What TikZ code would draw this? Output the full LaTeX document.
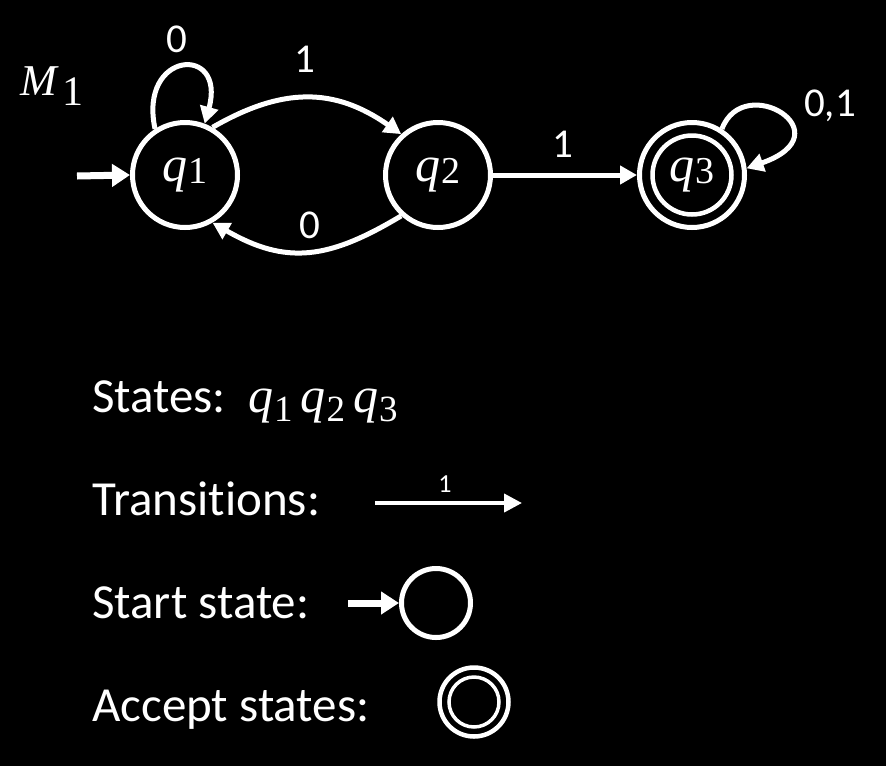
\documentclass[tikz,border=0pt]{standalone}
\usepackage{fontspec}
\setmainfont{Carlito}[Ligatures=NoCommon]
\newfontfamily\qfont{Liberation Serif}
\newcommand\qsym[3]{{\qfont\fontsize{#2}{#2}\selectfont\itshape q}\kern1pt\raisebox{-0.2em}{\qfont\fontsize{#3}{#3}\selectfont #1}}
\usetikzlibrary{arrows.meta}
\begin{document}
\begin{tikzpicture}[x=1pt,y=-1pt,
  state/.style={circle,draw=white,line width=5pt,minimum size=105pt,inner sep=0pt,text=white},
  innerring/.style={circle,draw=white,line width=4.5pt,minimum size=79pt,inner sep=0pt},
  edge/.style={draw=white,line width=5pt,-{Triangle[length=17pt,width=18pt]}},
  startarrow/.style={draw=white,line width=7pt,-{Triangle[length=18pt,width=22pt]}},
  lab/.style={text=white,font=\fontsize{41}{46}\selectfont,inner sep=0pt},
  legend/.style={text=white,font=\fontsize{49}{56}\selectfont,inner sep=0pt,anchor=base west},
  smallstate/.style={circle,draw=white,line width=5pt,minimum size=69pt,inner sep=0pt},
]
\fill[black] (0,0) rectangle (886,766);
\useasboundingbox (0,0) rectangle (886,766);

% states
\node[state] (q1) at (185,175) {\qsym{1}{50}{38}};
\node[state] (q2) at (438,175) {\qsym{2}{50}{38}};
\node[state] (q3) at (692,175) {};
\node[innerring] (q3in) at (692,175) {};
\node[text=white,inner sep=0pt] (q3l) at (692,175) {\qsym{3}{50}{38}};

\node[text=white,inner sep=0pt] (M) at (52,86) {{\qfont\fontsize{44}{44}\selectfont\itshape M}\kern6pt\raisebox{-10pt}{\qfont\fontsize{42}{42}\selectfont 1}};

% start arrow
\coordinate (s0) at (77,176);
\draw[startarrow] (s0) -- (q1.west);

% transitions
\draw[edge] (q1.123) .. controls +(-17,-78) and +(22,-80) .. (q1.69);
\draw[edge] (q1.60) to[out=30,in=145,looseness=1.1] (q2.132);
\draw[edge] (q2.228) to[out=211,in=-30,looseness=1.15] (q1.300);
\draw[edge] (q2.east) -- (q3.west);
\draw[edge] (q3.57) .. controls +(22,-58) and +(100,-35) .. (q3.7);

\node[lab] (l1) at (177,39) {0};
\node[lab] (l2) at (305,59) {1};
\node[lab] (l3) at (310,225) {0};
\node[lab] (l4) at (563,144) {1};
\node[lab] (l5) at (830,106) {0,1};

% legend
\node[legend] (t1) at (92,412) {States:};
\node[legend] (t1q) at (248,412) {\qsym{1}{50}{37}\kern8pt\qsym{2}{50}{37}\kern8pt\qsym{3}{50}{37}};
\node[legend] (t2) at (92,515) {Transitions:};
\node[legend] (t3) at (92,618) {Start state:};
\node[legend] (t4) at (92,721) {Accept states:};

\coordinate (ta) at (375,503);
\coordinate (tb) at (522,503);
\draw[draw=white,line width=4pt,-{Triangle[length=18pt,width=18pt]}] (ta) -- (tb);
\node[text=white,font=\fontsize{26}{30}\selectfont,inner sep=0pt] (tl) at (445,484) {1};

\node[smallstate] (ss) at (436,603) {};
\coordinate (sa) at (348,603);
\draw[startarrow,line width=7pt] (sa) -- (ss.west);

\node[smallstate,line width=4.5pt] (as) at (474,702) {};
\node[circle,draw=white,line width=3.5pt,minimum size=50pt,inner sep=0pt] (asin) at (474,702) {};
\end{tikzpicture}
\end{document}
